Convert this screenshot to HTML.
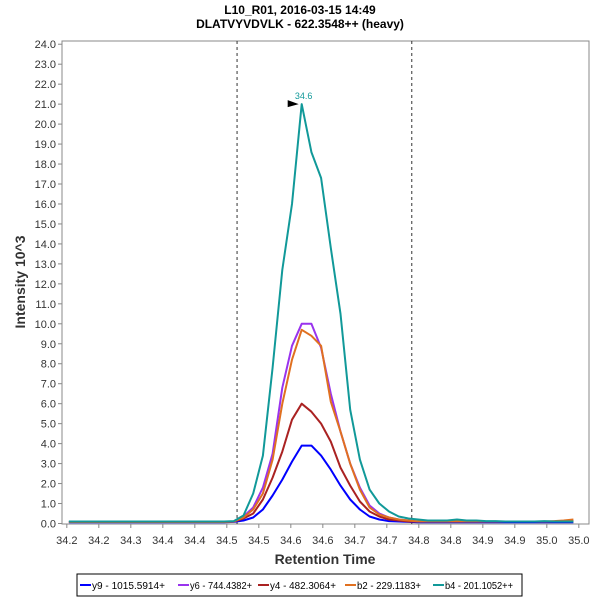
<!DOCTYPE html>
<html><head><meta charset="utf-8"><style>
body{margin:0;background:#fff;font-family:"Liberation Sans",sans-serif}
svg text{font-family:"Liberation Sans",sans-serif}
</style></head><body>
<svg id="c" width="600" height="600">
<text x="300" y="14" text-anchor="middle" font-size="12" font-weight="bold">L10_R01, 2016-03-15 14:49</text>
<text x="300" y="28" text-anchor="middle" font-size="12" font-weight="bold">DLATVYVDVLK - 622.3548++ (heavy)</text>
<rect x="62" y="41" width="527" height="483" fill="#fff" stroke="#888"/>
<text transform="translate(25,282) rotate(-90)" text-anchor="middle" font-size="14" font-weight="bold" fill="#333">Intensity 10^3</text>
<text x="325" y="564" text-anchor="middle" font-size="14" font-weight="bold" fill="#333">Retention Time</text>
<g id="axes"></g><g id="series"></g>
<g id="legend">
<rect x="77" y="574" width="445" height="22" fill="#fff" stroke="#000"/>
</g>
</svg>
<script>
const yTicks=[0,1,2,3,4,5,6,7,8,9,10,11,12,13,14,15,16,17,18,19,20,21,22,23,24];
const xTickValues=[34.233,34.283,34.333,34.383,34.433,34.483,34.533,34.583,34.633,34.683,34.733,34.783,34.833,34.883,34.933,34.983,35.033];
const xTickLabels=["34.2","34.2","34.3","34.4","34.4","34.5","34.5","34.6","34.6","34.7","34.7","34.8","34.8","34.9","34.9","35.0","35.0"];
const times=[];for(let k=-24;k<=28;k++)times.push(+(34.6+0.01516*k).toFixed(4));
const teal=[0.1,0.1,0.1,0.1,0.1,0.1,0.1,0.1,0.1,0.1,0.1,0.1,0.1,0.1,0.1,0.1,0.1,0.12,0.4,1.5,3.4,7.8,12.7,16.0,21.0,18.6,17.3,13.8,10.5,5.7,3.2,1.7,1.0,0.6,0.35,0.25,0.2,0.15,0.15,0.15,0.2,0.15,0.15,0.12,0.12,0.1,0.1,0.1,0.1,0.12,0.1,0.1,0.1];
const purple=[0.08,0.08,0.08,0.08,0.08,0.08,0.08,0.08,0.08,0.08,0.08,0.08,0.08,0.08,0.08,0.08,0.08,0.1,0.35,0.8,1.8,3.5,6.8,8.9,10.0,10.0,8.8,6.5,4.6,3.0,1.8,0.9,0.5,0.3,0.2,0.15,0.1,0.1,0.1,0.1,0.1,0.1,0.1,0.1,0.1,0.1,0.1,0.1,0.1,0.1,0.1,0.1,0.12];
const orange=[0.08,0.08,0.08,0.08,0.08,0.08,0.08,0.08,0.08,0.08,0.08,0.08,0.08,0.08,0.08,0.08,0.08,0.1,0.3,0.7,1.5,3.2,6.0,8.2,9.7,9.4,8.9,6.1,4.6,3.0,1.7,0.8,0.45,0.3,0.2,0.15,0.1,0.1,0.1,0.1,0.1,0.1,0.1,0.1,0.1,0.1,0.1,0.1,0.1,0.1,0.12,0.15,0.2];
const brown=[0.08,0.08,0.08,0.08,0.08,0.08,0.08,0.08,0.08,0.08,0.08,0.08,0.08,0.08,0.08,0.08,0.08,0.1,0.25,0.5,1.2,2.3,3.6,5.2,6.0,5.6,5.0,4.1,2.8,1.9,1.1,0.6,0.35,0.2,0.15,0.1,0.1,0.1,0.1,0.1,0.1,0.1,0.1,0.1,0.1,0.1,0.1,0.1,0.1,0.1,0.1,0.1,0.1];
const blue=[0.06,0.06,0.06,0.06,0.06,0.06,0.06,0.06,0.06,0.06,0.06,0.06,0.06,0.06,0.06,0.06,0.06,0.08,0.15,0.3,0.7,1.4,2.2,3.1,3.9,3.9,3.4,2.7,1.9,1.2,0.7,0.35,0.2,0.12,0.1,0.08,0.06,0.06,0.06,0.06,0.06,0.06,0.06,0.06,0.06,0.06,0.06,0.06,0.06,0.06,0.06,0.06,0.06];
const seriesNames=["y9 - 1015.5914+","y6 - 744.4382+","y4 - 482.3064+","b2 - 229.1183+","b4 - 201.1052++"];
const seriesColors=["#0000ff","#9933ee","#aa2222","#e07020","#119999"];
const boundaries=[34.499,34.772];
const peakTime=34.6,peakValue=21.0,peakLabel="34.6";
const NS="http://www.w3.org/2000/svg";
const X=t=>301.7+(t-34.6)*640;
const Y=v=>523.5-v*19.97;
function mk(tag,attrs,parent){const e=document.createElementNS(NS,tag);for(const k in attrs)e.setAttribute(k,attrs[k]);parent.appendChild(e);return e;}
const ax=document.getElementById('axes');
yTicks.forEach(v=>{const y=Y(v);
 const l=mk('line',{x1:58,x2:62,y1:y,y2:y,stroke:'#888'},ax);
 
 
 const t=mk('text',{x:56,y:y+4,'text-anchor':'end','font-size':11,fill:'#333'},ax);t.textContent=v.toFixed(1);
 
 });
xTickValues.forEach((v,i)=>{const x=X(v);
 const l=mk('line',{x1:x,x2:x,y1:524,y2:528,stroke:'#888'},ax);
 
 
 const t=mk('text',{x:x,y:544,'text-anchor':'middle','font-size':11,fill:'#333'},ax);t.textContent=xTickLabels[i];
 
 });
boundaries.forEach(b=>{const l=mk('line',{x1:X(b),x2:X(b),y1:41,y2:524,stroke:'#333','stroke-dasharray':'3,3'},ax);
 
 });
const sg=document.getElementById('series');
[blue,purple,brown,orange,teal].forEach((arr,si)=>{
 const pts=arr.map((v,i)=>X(times[i]).toFixed(1)+','+Y(v).toFixed(1)).join(' ');
 const p=mk('polyline',{points:pts,fill:'none',stroke:seriesColors[si],'stroke-width':2,'stroke-linejoin':'round'},sg);
 
 });
const px=X(peakTime),py=Y(peakValue);
const ar=mk('polygon',{points:`${px-14},${py-4} ${px-3},${py} ${px-14},${py+3}`,fill:'#000'},sg);


const pl=mk('text',{x:px+2,y:py-5,'text-anchor':'middle','font-size':9,fill:'#119999'},sg);pl.textContent=peakLabel;


const lg=document.getElementById('legend');
const lx=[80,178,258,345,433];
const tw=[73,62,66,64,68];
seriesNames.forEach((n,i)=>{
 const l=mk('line',{x1:lx[i],x2:lx[i]+11,y1:585,y2:585,stroke:seriesColors[i],'stroke-width':2},lg);
 
 
 const t=mk('text',{x:lx[i]+12,y:589,'font-size':10,fill:'#000',textLength:tw[i],lengthAdjust:'spacingAndGlyphs'},lg);t.textContent=n;
 
 });
</script>
</body></html>
